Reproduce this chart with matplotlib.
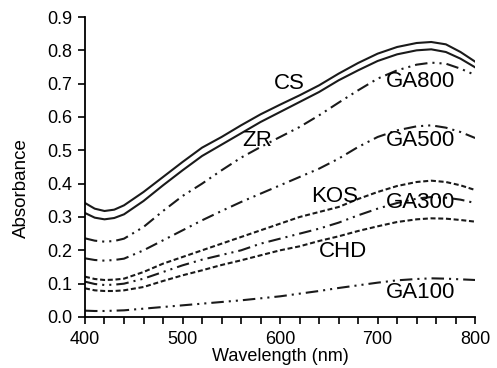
import numpy as np
import matplotlib
matplotlib.use("Agg")
import matplotlib.pyplot as plt

plt.rcParams['font.family'] = ['Liberation Sans', 'DejaVu Sans']

# data
wavelength = [400, 410, 420, 430, 440, 460, 480, 500, 520, 540, 560, 580, 600,
              620, 640, 660, 680, 700, 720, 740, 755, 770, 785, 800]
cs = [.342, .325, .318, .322, .335, .375, .420, .465, .508, .540, .575, .608, .637,
      .665, .695, .730, .762, .790, .810, .822, .825, .818, .795, .766]
zr = [.312, .298, .293, .297, .308, .348, .395, .440, .483, .517, .551, .585, .615,
      .645, .675, .710, .740, .768, .788, .800, .803, .795, .775, .749]
ga800 = [.236, .229, .226, .228, .235, .270, .318, .363, .400, .440, .478, .510, .540,
         .570, .605, .643, .680, .715, .740, .757, .763, .760, .745, .726]
ga500 = [.176, .171, .169, .171, .175, .200, .230, .260, .290, .318, .345, .370, .395,
         .420, .445, .475, .510, .540, .560, .572, .575, .568, .555, .537]
kos = [.121, .114, .111, .112, .115, .135, .160, .180, .200, .220, .240, .260, .280,
       .300, .315, .330, .354, .375, .393, .405, .409, .405, .395, .381]
ga300 = [.106, .099, .096, .097, .100, .115, .135, .155, .172, .186, .200, .220, .235,
         .250, .265, .283, .305, .325, .342, .355, .360, .358, .352, .342]
chd = [.086, .080, .078, .078, .080, .090, .108, .125, .140, .156, .170, .185, .200,
       .212, .228, .242, .258, .272, .285, .293, .296, .295, .291, .286]
ga100 = [.019, .018, .018, .019, .020, .025, .030, .035, .040, .045, .050, .056, .062,
         .070, .078, .087, .095, .103, .110, .114, .116, .115, .113, .111]

labels = ['CS', 'ZR', 'GA800', 'GA500', 'KOS', 'GA300', 'CHD', 'GA100']
label_pos = [(609, 0.70), (577, 0.528), (744, 0.708), (744, 0.528),
             (656, 0.36), (744, 0.342), (665, 0.195), (744, 0.072)]

solid = '-'
dashdotdot = (0, (6.0, 2.4, 1.0, 2.4, 1.0, 2.4))
dashed = (0, (2.4, 1.3))
styles = [solid, solid, dashdotdot, dashdotdot, dashed, dashdotdot, dashed, dashdotdot]
series = [cs, zr, ga800, ga500, kos, ga300, chd, ga100]

fig = plt.figure(figsize=(4.97, 3.68), dpi=100)
ax = fig.add_axes([0.171, 0.1386, 0.785, 0.8152])

for y, ls in zip(series, styles):
    ax.plot(wavelength, y, color='#1a1a1a', lw=1.5, linestyle=ls)

for name, (px, py) in zip(labels, label_pos):
    ax.text(px, py, name, fontsize=16, ha='center', va='center', color='black')

ax.set_xlim(400, 800)
ax.set_ylim(0, 0.9)
ax.set_xticks(np.arange(400, 801, 100))
ax.set_xticks(np.arange(400, 801, 20), minor=True)
ax.set_yticks(np.arange(0, 0.91, 0.1))
ax.set_yticklabels([f'{v:.1f}' for v in np.arange(0, 0.91, 0.1)])

for s in ['top', 'right']:
    ax.spines[s].set_visible(False)
for s in ['left', 'bottom']:
    ax.spines[s].set_linewidth(1.3)

ax.tick_params(axis='both', which='major', direction='out', length=5, width=1.2,
               labelsize=13, pad=4)
ax.tick_params(axis='x', which='minor', direction='out', length=5, width=1.2)
ax.tick_params(axis='x', which='major', pad=5)

ax.set_xlabel('Wavelength (nm)', fontsize=13)
ax.set_ylabel('Absorbance', fontsize=13.5)
ax.xaxis.set_label_coords(0.5, -0.102)
ax.yaxis.set_label_coords(-0.141, 0.43)

fig.savefig('out.png', dpi=100)
